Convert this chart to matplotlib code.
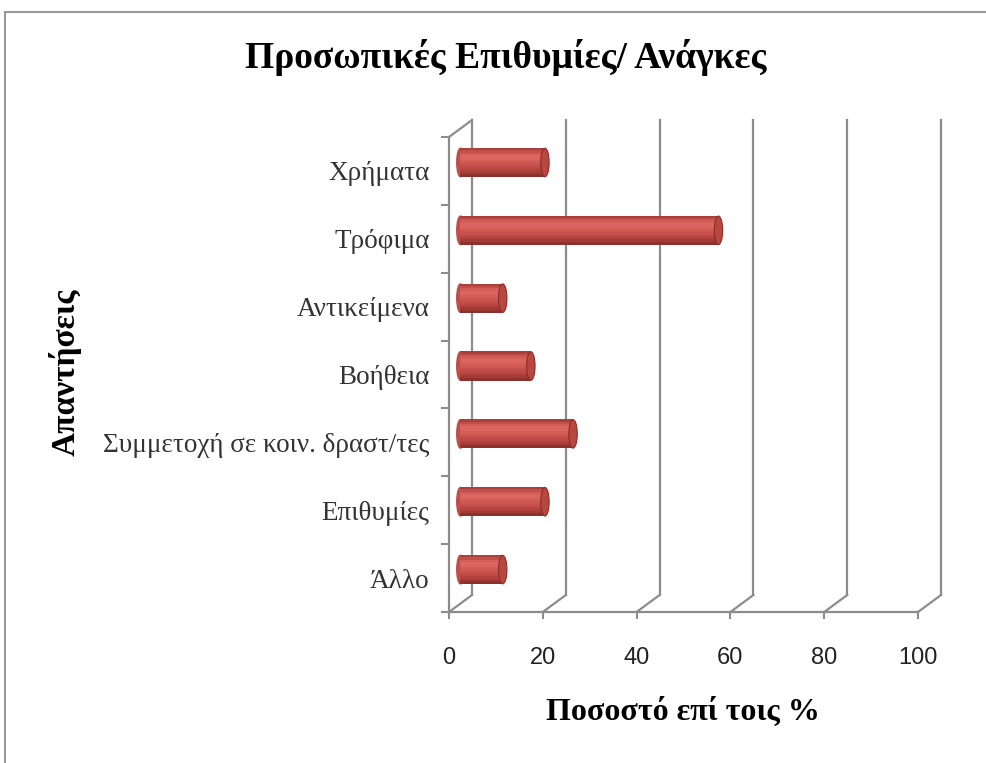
#!/usr/bin/env python
# -*- coding: utf-8 -*-

import matplotlib
matplotlib.use("Agg")
import matplotlib.pyplot as plt
import matplotlib.transforms as mtrans
from matplotlib.patches import Ellipse
from matplotlib.lines import Line2D
import numpy as np

categories = ["Χρήματα", "Τρόφιμα", "Αντικείμενα", "Βοήθεια",
              "Συμμετοχή σε κοιν. δραστ/τες", "Επιθυμίες", "Άλλο"]
values = [18, 55, 9, 15, 24, 18, 9]
xticks = [0, 20, 40, 60, 80, 100]

title = "Προσωπικές Επιθυμίες/ Ανάγκες"
xlabel = "Ποσοστό επί τοις %"
ylabel = "Απαντήσεις"

grey = "#8c8c8c"
serif = ["Liberation Serif", "DejaVu Serif"]

fig = plt.figure(figsize=(9.87, 7.63), dpi=100)
ax = fig.add_axes([0.4549, 0.1979, 0.4752, 0.6225])

ypos = np.arange(len(categories))
ax.set_xlim(0, 100)
ax.set_ylim(len(categories) - 0.5, -0.5)

# depth offsets of the fake 3d box (pixels)
dx, dy = 23, 17
back = ax.transData + mtrans.ScaledTranslation(dx / 100, dy / 100, fig.dpi_scale_trans)
mid = ax.transData + mtrans.ScaledTranslation(dx / 200, dy / 200, fig.dpi_scale_trans)

# back wall gridlines + floor diagonals
ybot, ytop = len(categories) - 0.5, -0.5
for x in xticks:
    ax.plot([x, x], [ybot, ytop], color=grey, lw=1.6, transform=back, clip_on=False)
    ax.plot([x, x + dx / 469 * 100], [ybot, ybot - dy / 475 * 7], color=grey, lw=1.6, clip_on=False)
ax.plot([0, dx / 469 * 100], [ytop, ytop - dy / 475 * 7], color=grey, lw=1.6, clip_on=False)

# cylinders: horizontal strips for shading (top -> bottom)
h = 0.42
shades = ["#a8403c", "#c24f4a", "#d35d58", "#dc6661", "#da645f", "#d45d58",
          "#cd5651", "#c6504b", "#bd4945", "#b2423e", "#a23a36", "#8e302c"]
n = len(shades)
for y, v in zip(ypos, values):
    ax.add_patch(Ellipse((0, y), 1.6, h, color="#c04d48", transform=mid,
                         clip_on=False, zorder=2.5))
for k, c in enumerate(shades):
    off = -h / 2 + (k + 0.5) * h / n
    ax.barh(ypos + off, values, height=h / n * 1.3, color=c, lw=0,
            antialiased=False, transform=mid, clip_on=False, zorder=3)
for y, v in zip(ypos, values):
    ax.add_patch(Ellipse((v, y), 1.8, h, facecolor="#b84641", edgecolor="#8a2e2a",
                         lw=0.8, transform=mid, clip_on=False, zorder=4))

# axes styling
for s in ["top", "right"]:
    ax.spines[s].set_visible(False)
for s in ["left", "bottom"]:
    ax.spines[s].set_color(grey)
    ax.spines[s].set_linewidth(1.6)
ax.set_facecolor("none")

ax.set_xticks(xticks)
ax.set_xticklabels([str(t) for t in xticks], fontsize=17, color="#222222",
                   family=["Liberation Sans", "DejaVu Sans"])
ax.tick_params(axis="x", length=5, color=grey, width=1.5, pad=20)
ax.set_yticks(ypos)
ax.set_yticklabels(categories, fontsize=19.5, color="#333333", family=serif)
ax.tick_params(axis="y", length=0, pad=14)
ax.set_yticks(np.arange(len(categories) + 1) - 0.5, minor=True)
ax.tick_params(axis="y", which="minor", length=6, color=grey, width=1.5)

fig.text(0.512, 0.925, title, ha="center", va="center", fontsize=27,
         fontweight="bold", family=serif)
fig.text(0.692, 0.067, xlabel, ha="center", va="center", fontsize=23,
         fontweight="bold", family=serif)
fig.text(0.066, 0.512, ylabel, ha="center", va="center", fontsize=24,
         fontweight="bold", family=serif, rotation=90)

# outer frame
fig.add_artist(Line2D([0.005, 0.005], [0, 0.984], color="#999999", lw=1.5))
fig.add_artist(Line2D([0.005, 1.0], [0.984, 0.984], color="#999999", lw=1.5))

fig.savefig("out.png", dpi=100)
